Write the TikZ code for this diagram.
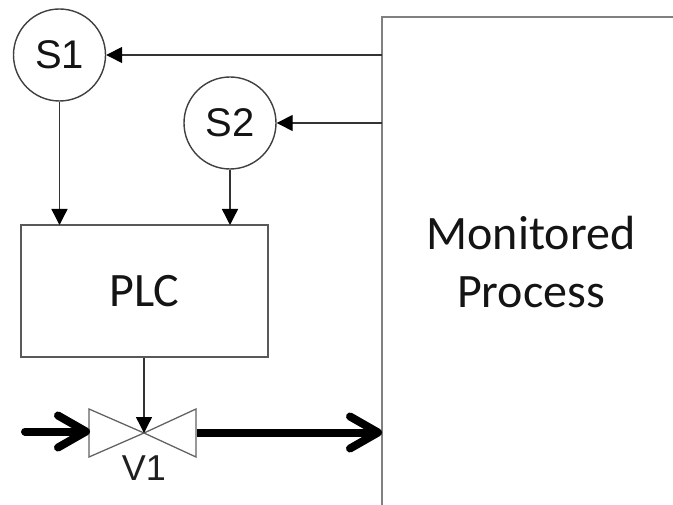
\documentclass[tikz,border=0pt]{standalone}
\usepackage{fontspec}
\setmainfont{Carlito}
\newfontfamily\arialish{Liberation Sans}
\usetikzlibrary{arrows.meta}
\tikzset{
 line/.style={draw=black!72,line width=1.05pt},
 procline/.style={draw=black!50,line width=1.2pt},
 thin arrow/.style={draw=black!80,line width=1.05pt,-{Triangle[length=12pt,width=12pt,black]}},
 thick arrow/.style={black,line width=6pt,line cap=round,-{Straight Barb[length=21pt,width=24pt,line width=6pt,round]}},
 sensor/.style={circle,draw=black!75,line width=1.05pt,minimum size=69pt,inner sep=0pt,text=black!92,font=\arialish\fontsize{30}{34}\selectfont},
 valvepart/.style={draw=black!62,line width=0.95pt,fill=white},
 bigtext/.style={text=black!92,font=\fontsize{36}{43.5}\selectfont},
}
\begin{document}
\begin{tikzpicture}[x=0.75pt,y=-0.75pt]
\useasboundingbox (0,0) rectangle (673,505);
% process box
\coordinate (tl) at (382,17);
\coordinate (tr) at (673,17);
\coordinate (bl) at (382,505);
\draw[procline] (tr) -- (tl) -- (bl);
\node[bigtext,align=center] (mp) at (531,262) {Monitored\\Process};
\node[sensor] (s1) at (59.5,55) {S1};
\node[sensor] (s2) at (230,123) {S2};
\node[draw=black!65,line width=1.05pt,minimum width=185pt,minimum height=99pt,inner sep=0pt,bigtext] (plc) at (144.5,291) {PLC};
\coordinate (p1) at (382,55);
\coordinate (p2) at (382,123);
\draw[thin arrow] (p1) -- (s1);
\draw[thin arrow] (p2) -- (s2);
\coordinate (pa) at (59.5,225);
\coordinate (pb) at (230,225);
\draw[thin arrow] (s1) -- (pa);
\draw[thin arrow] (s2) -- (pb);
% valve
\coordinate (vc) at (144,433);
\draw[valvepart] (89,409) -- (89,457) -- (vc) -- cycle;
\draw[valvepart] (196,409) -- (196,457) -- (vc) -- cycle;
\draw[thin arrow] (plc.south -| vc) -- (vc);
\coordinate (in0) at (25,431.5);
\coordinate (inE) at (90,431.5);
\coordinate (out0) at (197,432.5);
\coordinate (outE) at (382,432.5);
\draw[thick arrow] (in0) -- (inE);
\draw[thick arrow,line cap=butt] (out0) -- (outE);
\node[text=black!88,font=\arialish\fontsize{27}{31}\selectfont] (v1) at (144,468) {V1};
\end{tikzpicture}
\end{document}
